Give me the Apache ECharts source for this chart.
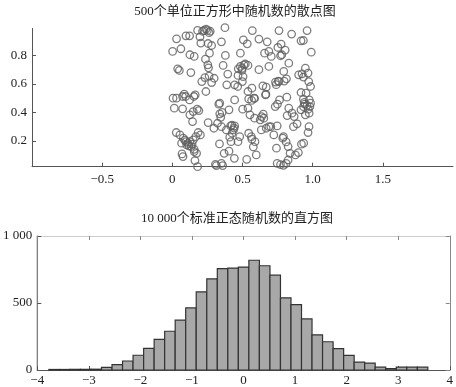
<!DOCTYPE html>
<html>
<head>
<meta charset="utf-8">
<script src="https://cdn.jsdelivr.net/npm/echarts@6/dist/echarts.min.js"></script>
<style>html,body{margin:0;padding:0;background:#fff}#c{width:456px;height:387px}</style>
</head>
<body>
<div id="c"></div>
<script>
const scatterTitle = '500个单位正方形中随机数的散点图';
const histTitle = '10 000个标准正态随机数的直方图';

const scatterPoints = [
[0.18,0.976],[0.225,0.976],[0.25,0.976],[0.27,0.97],[0.375,0.995],[0.57,0.975],[0.76,0.975],[0.96,0.975],[0.85,0.95],[0.197,0.93],
[0.03,0.917],[0.097,0.938],[0.123,0.938],[0.203,0.887],[0.255,0.884],[0.28,0.87],[0.35,0.896],[0.506,0.91],[0.534,0.882],[0.617,0.915],
[0.676,0.896],[0.775,0.88],[0.917,0.903],[0.934,0.905],[0.002,0.828],[0.061,0.847],[0.125,0.805],[0.156,0.793],[0.265,0.816],[0.378,0.80],
[0.485,0.816],[0.657,0.816],[0.688,0.828],[0.705,0.793],[0.752,0.856],[0.804,0.838],[0.99,0.823],[0.771,0.798],[0.78,0.805],
[0.236,0.774],[0.253,0.734],[0.362,0.73],[0.485,0.723],[0.51,0.734],[0.539,0.73],[0.688,0.723],[0.83,0.746],[0.948,0.711],[0.47,0.706],
[0.038,0.706],[0.05,0.695],[0.132,0.68],[0.258,0.713],[0.232,0.645],[0.262,0.655],[0.298,0.64],[0.395,0.669],[0.468,0.66],[0.496,0.695],
[0.504,0.652],[0.617,0.70],[0.794,0.688],[0.90,0.664],[0.924,0.671],[0.967,0.676],[0.934,0.648],[0.972,0.617],
[0.21,0.617],[0.28,0.61],[0.388,0.594],[0.444,0.594],[0.466,0.582],[0.499,0.617],[0.645,0.587],[0.669,0.577],[0.735,0.613],[0.759,0.617],
[0.797,0.62],[0.813,0.636],[0.985,0.582],[0.953,0.535],[0.667,0.528],[0.539,0.547],[0.567,0.57],[0.582,0.50],[0.239,0.547],
[0.005,0.50],[0.03,0.50],[0.073,0.512],[0.085,0.528],[0.095,0.512],[0.154,0.512],[0.123,0.488],[0.163,0.523],[0.338,0.465],[0.444,0.488],
[0.544,0.495],[0.565,0.484],[0.586,0.498],[0.664,0.523],[0.764,0.488],[0.816,0.507],[0.83,0.43],[0.917,0.54],[0.934,0.493],[0.943,0.458],
[0.976,0.488],[0.985,0.465],[0.98,0.441],
[0.014,0.43],[0.073,0.425],[0.149,0.406],[0.177,0.423],[0.189,0.413],[0.331,0.458],[0.355,0.40],[0.404,0.418],[0.501,0.423],[0.539,0.43],
[0.626,0.348],[0.652,0.36],[0.733,0.441],[0.749,0.458],[0.818,0.378],[0.853,0.395],[0.868,0.371],[0.917,0.418],[0.948,0.383],[0.969,0.423],
[0.975,0.395],
[0.125,0.383],[0.144,0.336],[0.255,0.329],[0.322,0.324],[0.338,0.39],[0.345,0.366],[0.553,0.383],[0.586,0.36],[0.636,0.371],[0.648,0.388],
[0.669,0.289],[0.688,0.30],[0.747,0.305],[0.863,0.30],[0.889,0.32],[0.974,0.30],
[0.184,0.259],[0.296,0.289],[0.35,0.30],[0.385,0.277],[0.416,0.305],[0.435,0.277],[0.444,0.305],[0.426,0.254],[0.48,0.23],[0.544,0.254],
[0.563,0.23],[0.634,0.277],[0.702,0.30],[0.723,0.242],[0.792,0.23],[0.967,0.259],
[0.028,0.259],[0.054,0.242],[0.078,0.219],[0.097,0.195],[0.125,0.195],[0.149,0.207],[0.168,0.23],[0.066,0.184],[0.102,0.172],[0.135,0.16],
[0.156,0.141],[0.20,0.242],[0.336,0.179],[0.409,0.226],[0.418,0.195],[0.468,0.195],[0.567,0.212],[0.577,0.158],[0.589,0.195],[0.742,0.149],
[0.787,0.219],[0.811,0.193],[0.825,0.16],[0.92,0.177],[0.936,0.184],
[0.069,0.109],[0.076,0.09],[0.156,0.125],[0.173,0.113],[0.369,0.113],[0.404,0.128],[0.442,0.078],[0.53,0.071],[0.598,0.102],[0.839,0.113],
[0.877,0.102],[0.898,0.118],
[0.161,0.062],[0.18,0.019],[0.307,0.036],[0.314,0.027],[0.35,0.043],[0.359,0.027],[0.747,0.043],[0.771,0.034],[0.792,0.029],[0.811,0.043],
[0.825,0.066],
[0.112,0.182],[0.118,0.165],[0.141,0.178],[0.09,0.205],[0.215,0.97],[0.24,0.985],[0.262,0.96],[0.52,0.74],[0.498,0.71],
[0.935,0.44],[0.96,0.45],[0.94,0.47],[0.44,0.29],[0.425,0.31],[0.755,0.62],[0.74,0.595]
];

const histEdges = [-3.775,-3.571,-3.367,-3.162,-2.958,-2.754,-2.550,-2.346,-2.142,-1.937,-1.733,-1.529,-1.325,-1.121,-0.917,-0.712,-0.508,-0.304,-0.100,0.104,0.308,0.513,0.717,0.921,1.125,1.329,1.533,1.738,1.942,2.146,2.350,2.554,2.758,2.963,3.167,3.371,3.575];
const histCounts = [4,4,5,5,6,20,40,67,110,161,228,289,372,463,583,680,756,761,768,819,778,708,538,488,381,262,211,160,109,59,52,21,11,21,21,21];

const scatterXTicks = [-0.5,0,0.5,1.0,1.5];
const scatterYTicks = [0.2,0.4,0.6,0.8];
const histXTicks = [-4,-3,-2,-1,0,1,2,3,4];
const histYTicks = [0,500,1000];

const FONT = '"Liberation Serif","Noto Sans CJK SC",serif';
const minus = s => String(s).replace('-', '\u2212');

const histData = histCounts.map((c, i) => [histEdges[i], histEdges[i + 1], c]);

const axisLineStyle = {color: '#555', width: 1};
const tickStyle = {color: '#555', width: 1};
const labelBase = {color: '#222', fontFamily: FONT, fontSize: 13};

const chart = echarts.init(document.getElementById('c'), null, {renderer: 'canvas'});
chart.setOption({
  animation: false,
  backgroundColor: '#fff',
  title: [
    {text: scatterTitle, left: 230, top: 0, textAlign: 'center',
     textStyle: {fontFamily: FONT, fontSize: 13, fontWeight: 'normal', color: '#222'}},
    {text: histTitle, left: 232, top: 207, textAlign: 'center',
     textStyle: {fontFamily: FONT, fontSize: 13, fontWeight: 'normal', color: '#222'}}
  ],
  grid: [
    {left: 32, right: 3, top: 28.4, height: 138.3, containLabel: false},
    {left: 32, right: 3, top: 236, bottom: 15, containLabel: false}
  ],
  xAxis: [
    {gridIndex: 0, type: 'value', min: -1, max: 2, interval: 0.5,
     axisLine: {show: true, lineStyle: axisLineStyle, onZero: false},
     axisTick: {show: true, inside: true, length: 4, lineStyle: tickStyle, customValues: scatterXTicks},
     axisLabel: Object.assign({}, labelBase, {margin: 6, customValues: scatterXTicks,
       formatter: v => v === 1 ? '1.0' : minus(v)}),
     splitLine: {show: false}},
    {gridIndex: 1, type: 'value', min: -4, max: 4, interval: 1,
     axisLine: {show: true, lineStyle: axisLineStyle, onZero: false},
     axisTick: {show: true, inside: true, length: 4, lineStyle: tickStyle, customValues: histXTicks},
     axisLabel: Object.assign({}, labelBase, {margin: 4, customValues: histXTicks, formatter: v => minus(v)}),
     splitLine: {show: false}},
    {gridIndex: 1, type: 'value', min: -4, max: 4, interval: 1, position: 'top',
     axisLine: {show: true, lineStyle: {color: '#ccc', width: 1}, onZero: false},
     axisTick: {show: true, inside: true, length: 4, lineStyle: {color: '#888'}},
     axisLabel: {show: false}, splitLine: {show: false}}
  ],
  yAxis: [
    {gridIndex: 0, type: 'value', min: 0.019, max: 0.99,
     axisLine: {show: true, lineStyle: axisLineStyle, onZero: false},
     axisTick: {show: true, inside: true, length: 4, lineStyle: tickStyle, customValues: scatterYTicks},
     axisLabel: Object.assign({}, labelBase, {margin: 5, customValues: scatterYTicks, formatter: v => v.toFixed(1)}),
     splitLine: {show: false}},
    {gridIndex: 1, type: 'value', min: 0, max: 1000, interval: 500,
     axisLine: {show: true, lineStyle: axisLineStyle, onZero: false},
     axisTick: {show: true, inside: true, length: 4, lineStyle: tickStyle, customValues: histYTicks},
     axisLabel: Object.assign({}, labelBase, {margin: 5, customValues: histYTicks,
       formatter: v => v === 1000 ? '1 000' : String(v)}),
     splitLine: {show: false}},
    {gridIndex: 1, type: 'value', min: 0, max: 1000, interval: 500, position: 'right',
     axisLine: {show: true, lineStyle: {color: '#888', width: 1}, onZero: false},
     axisTick: {show: true, inside: true, length: 4, lineStyle: {color: '#888'}},
     axisLabel: {show: false}, splitLine: {show: false}}
  ],
  series: [
    {type: 'scatter', xAxisIndex: 0, yAxisIndex: 0, data: scatterPoints, symbol: 'circle', symbolSize: 7.5,
     clip: false,
     itemStyle: {color: 'rgba(0,0,0,0)', borderColor: '#5e5e5e', borderWidth: 1.3}},
    {type: 'custom', xAxisIndex: 1, yAxisIndex: 1, data: histData,
     encode: {x: [0, 1], y: 2},
     renderItem: function (params, api) {
       const p0 = api.coord([api.value(0), api.value(2)]);
       const p1 = api.coord([api.value(1), 0]);
       return {type: 'rect',
         shape: {x: p0[0], y: p0[1], width: p1[0] - p0[0], height: p1[1] - p0[1]},
         style: {fill: '#a8a8a8', stroke: '#333', lineWidth: 1.2}};
     }}
  ]
});
</script>
</body>
</html>
